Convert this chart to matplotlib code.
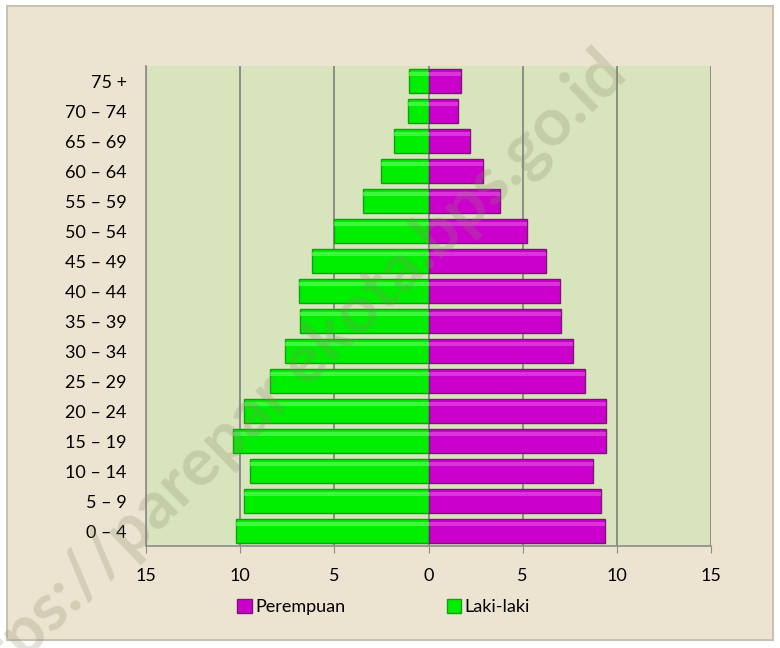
import matplotlib.pyplot as plt
import numpy as np
from matplotlib.patches import Rectangle, Patch

# age groups, bottom to top
kelompok_umur = ['0 – 4', '5 – 9', '10 – 14', '15 – 19', '20 – 24', '25 – 29', '30 – 34',
                 '35 – 39', '40 – 44', '45 – 49', '50 – 54', '55 – 59', '60 – 64',
                 '65 – 69', '70 – 74', '75 +']
laki_laki = [10.2, 9.8, 9.5, 10.4, 9.8, 8.4, 7.6, 6.8, 6.9, 6.2, 5.0, 3.5, 2.5, 1.85, 1.1, 1.05]
perempuan = [9.35, 9.15, 8.75, 9.4, 9.4, 8.3, 7.65, 7.05, 7.0, 6.25, 5.25, 3.8, 2.9, 2.2, 1.55, 1.7]
xticks = [-15, -10, -5, 0, 5, 10, 15]

plt.rcParams['font.family'] = ['Lato', 'DejaVu Sans']

fig = plt.figure(figsize=(7.8, 6.48), dpi=100, facecolor='white')

# beige frame behind the chart
fig.patches.append(Rectangle((0.009, 0.012), 0.982, 0.978, transform=fig.transFigure,
                             facecolor='#ECE4D0', edgecolor='#C8C2B2', linewidth=1.5, zorder=-1))

ax = fig.add_axes([0.1872, 0.1574, 0.7244, 0.7407], zorder=2)
ax.set_facecolor('#D8E4BC')

y = np.arange(len(kelompok_umur))
h = 0.82
ax.barh(y, [-v for v in laki_laki], height=h, color='#00EE00', edgecolor='#12A012', linewidth=1.0, zorder=3)
ax.barh(y, perempuan, height=h, color='#CC00CC', edgecolor='#7A157A', linewidth=1.0, zorder=3)
# light highlight strip on top of each bar for the bevel look
ax.barh(y + h * 0.3, [-v for v in laki_laki], height=h * 0.16, color='#66FF66', linewidth=0, zorder=4, alpha=0.6)
ax.barh(y + h * 0.3, perempuan, height=h * 0.16, color='#E855E8', linewidth=0, zorder=4, alpha=0.6)

ax.set_xlim(-15, 15)
ax.set_ylim(-0.5, len(kelompok_umur) - 0.5)
ax.set_xticks(xticks)
ax.set_xticklabels([str(abs(t)) for t in xticks], fontsize=13)
ax.set_yticks(y)
ax.set_yticklabels(kelompok_umur, fontsize=13)
ax.tick_params(axis='y', length=0, pad=14)
ax.tick_params(axis='x', length=5, color='#8C8C8C', pad=11)

ax.grid(axis='x', color='#7F7F7F', linewidth=1.2, zorder=1)
ax.axvline(0, color='#8C8C8C', linewidth=1.2, zorder=2)
for s in ['top', 'right']:
    ax.spines[s].set_visible(False)
for s in ['left', 'bottom']:
    ax.spines[s].set_color('#8C8C8C')
    ax.spines[s].set_linewidth(1.2)

handles = [Patch(facecolor='#CC00CC', edgecolor='#7A157A', label='Perempuan'),
           Patch(facecolor='#00EE00', edgecolor='#12A012', label='Laki-laki')]
fig.legend(handles=handles, loc='center', bbox_to_anchor=(0.492, 0.063), ncol=2, frameon=False,
           fontsize=13, handlelength=0.8, handleheight=0.8, handletextpad=0.2, columnspacing=5.6)

# watermark, drawn over the bars
ax.text(0.363, 0.404, 'https://parepar ekota.bps.go.id', transform=fig.transFigure, fontsize=48,
        fontweight='bold', color='#8A8A6A', alpha=0.25, rotation=44, ha='center', va='center',
        zorder=10, clip_on=False)

fig.savefig('out.png', dpi=100, facecolor=fig.get_facecolor())
